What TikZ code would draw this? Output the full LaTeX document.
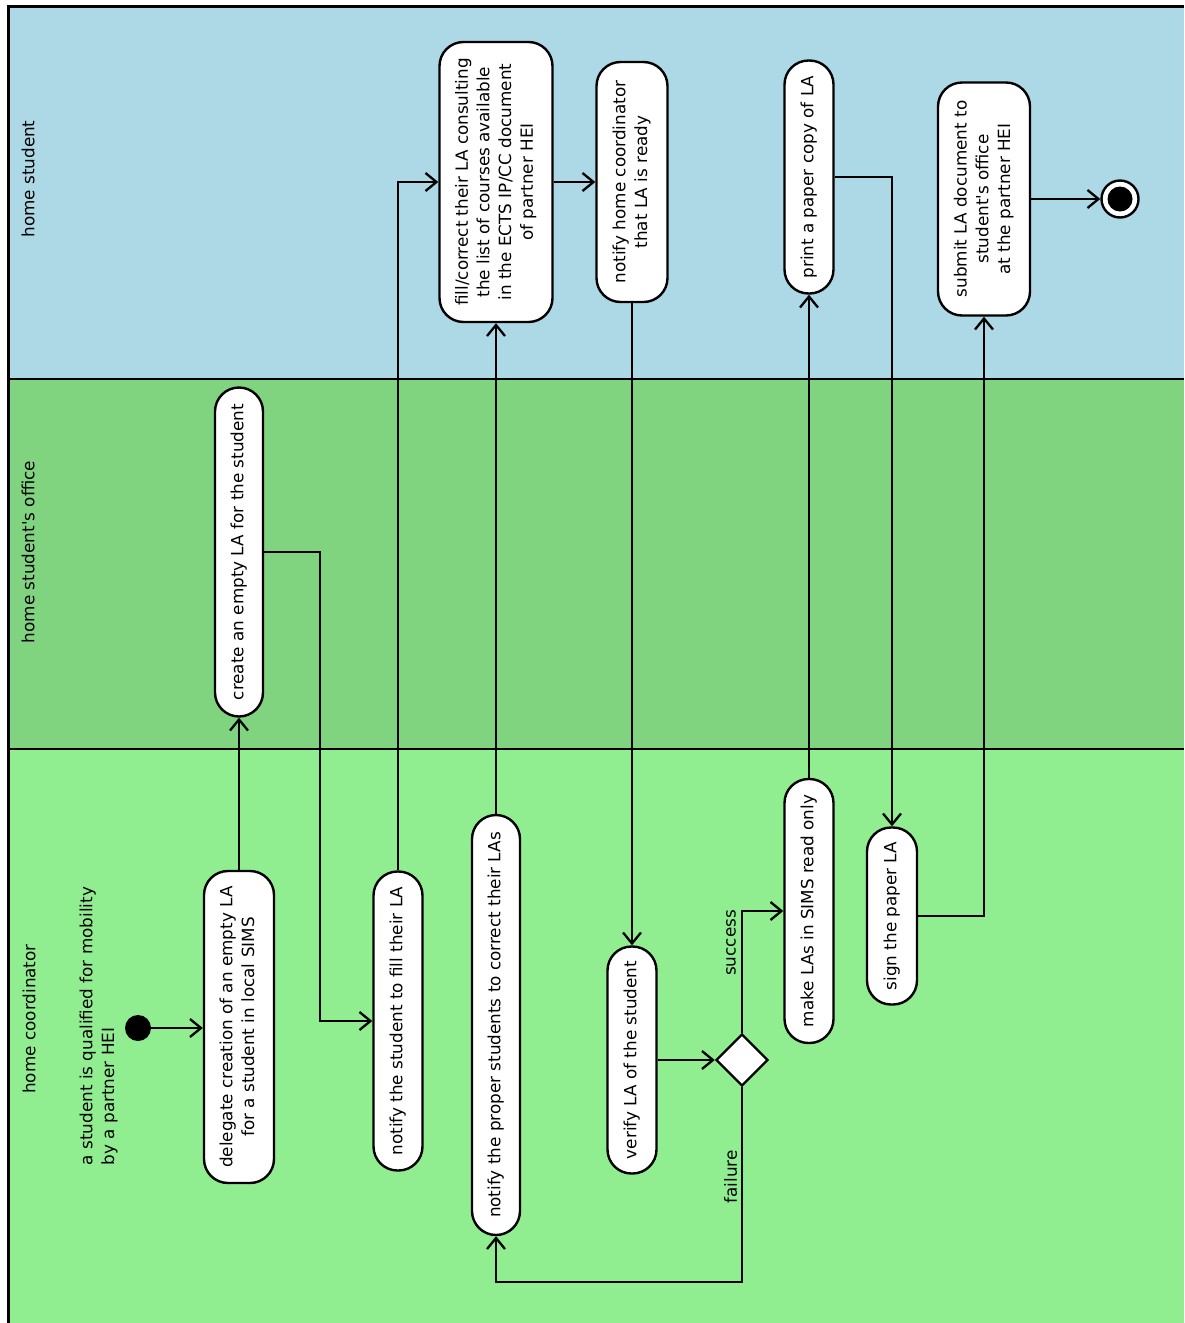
\documentclass[tikz,border=0pt]{standalone}
\usepackage{fontspec}
\setmainfont{DejaVu Sans}
\usepackage{graphicx}
\usetikzlibrary{arrows.meta,positioning,calc,shapes.geometric}

\definecolor{studentlane}{RGB}{173,216,230}
\definecolor{officelane}{RGB}{128,212,128}
\definecolor{coordlane}{RGB}{144,238,144}

\newcommand{\vtext}[1]{\rotatebox{90}{\begin{tabular}{@{}c@{}}#1\end{tabular}}}
\newcommand{\vtextl}[1]{\rotatebox{90}{\begin{tabular}{@{}l@{}}#1\end{tabular}}}

\begin{document}
\begin{tikzpicture}[x=1pt,y=-1pt,
    font=\fontsize{16.8}{21.7}\selectfont,
    action/.style={draw,fill=white,line width=2.4pt,rounded corners=24pt,inner sep=2pt},
    flow/.style={-{Straight Barb[length=11pt,width=18pt]},line width=2.3pt},
    lane/.style={line width=2.5pt}]
    \useasboundingbox (0,0) rectangle (1184,1323);

    % swimlanes
    \fill[studentlane] (8,6) rectangle (1184,379);
    \fill[officelane] (8,379) rectangle (1184,749);
    \fill[coordlane] (8,749) rectangle (1184,1323);
    \draw[lane] (8,379) -- (1184,379);
    \draw[lane] (8,749) -- (1184,749);
    \draw[line width=3pt] (1184,6) -- (8,6) -- (8,1323);

    \node (lblstudent) at (28,179) {\rotatebox{90}{home student}};
    \node (lbloffice) at (28,552) {\rotatebox{90}{home student\textquotesingle s office}};
    \node (lblcoord) at (29,1019) {\rotatebox{90}{home coordinator}};

    % start
    \node[circle,fill=black,minimum size=26pt,inner sep=0pt] (initial) at (138,1028) {};
    \node (lblstart) at (99,1026) {\vtextl{a student is qualified for mobility\\by a partner HEI}};

    % actions
    \node[action,minimum width=70pt,minimum height=312pt] (delegate) at (239,1027)
        {\vtext{delegate creation of an empty LA\\for a student in local SIMS}};
    \node[action,minimum width=48pt,minimum height=329pt] (create) at (239,552)
        {\vtext{create an empty LA for the student}};
    \node[action,minimum width=49pt,minimum height=299pt] (notifyfill) at (398,1021)
        {\vtext{notify the student to fill their LA}};
    \node[action,minimum width=113pt,minimum height=280pt] (fill) at (496,182)
        {\vtext{fill/correct their LA consulting\\the list of courses available\\in the ECTS IP/CC document\\of partner HEI}};
    \node[action,minimum width=71pt,minimum height=240pt] (notifyhome) at (632,182)
        {\vtext{notify home coordinator\\that LA is ready}};
    \node[action,minimum width=48pt,minimum height=420pt] (notifyproper) at (496,1025)
        {\vtext{notify the proper students to correct their LAs}};
    \node[action,minimum width=49pt,minimum height=227pt] (verify) at (632,1060)
        {\vtext{verify LA of the student}};
    \node[diamond,draw,fill=white,line width=2.4pt,minimum width=52pt,minimum height=52pt,inner sep=0pt] (decision) at (742,1060) {};
    \node[action,minimum width=49pt,minimum height=264pt] (makero) at (809,911)
        {\vtext{make LAs in SIMS read only}};
    \node[action,minimum width=49pt,minimum height=233pt] (print) at (809,177)
        {\vtext{print a paper copy of LA}};
    \node[action,minimum width=50pt,minimum height=177pt] (sign) at (892,916)
        {\vtext{sign the paper LA}};
    \node[action,minimum width=92pt,minimum height=233pt] (submit) at (984,199)
        {\vtext{submit LA document to\\student\textquotesingle s office\\at the partner HEI}};

    % end
    \node[circle,draw,fill=white,line width=2.4pt,minimum size=37pt,inner sep=0pt] (final) at (1120,199) {};
    \node[circle,fill=black,minimum size=25pt,inner sep=0pt] (finaldot) at (final) {};

    % flows
    \draw[flow] (initial) -- (initial -| delegate.west);
    \draw[flow] (delegate) -- (create);
    \draw[flow] (create.east) -- ++(56,0) |- (notifyfill.west);
    \draw[flow] (notifyfill.north) |- (fill.west);
    \draw[flow] (notifyproper) -- (fill);
    \draw[flow] (fill) -- (notifyhome);
    \draw[flow] (notifyhome) -- (verify);
    \draw[flow] (verify) -- (decision);
    \draw[flow] (decision.north) |- (makero.west);
    \draw[flow] (decision.south) -- ++(0,195) -| (notifyproper.south);
    \draw[flow] (makero) -- (print);
    \draw[flow] (print.east) -| (sign.north);
    \draw[flow] (sign.east) -| (submit.south);
    \draw[flow] (submit) -- (final);

    \node (lblsuccess) at (731,943) {\rotatebox{90}{success}};
    \node (lblfailure) at (730.5,1177) {\rotatebox{90}{failure}};
\end{tikzpicture}
\end{document}
